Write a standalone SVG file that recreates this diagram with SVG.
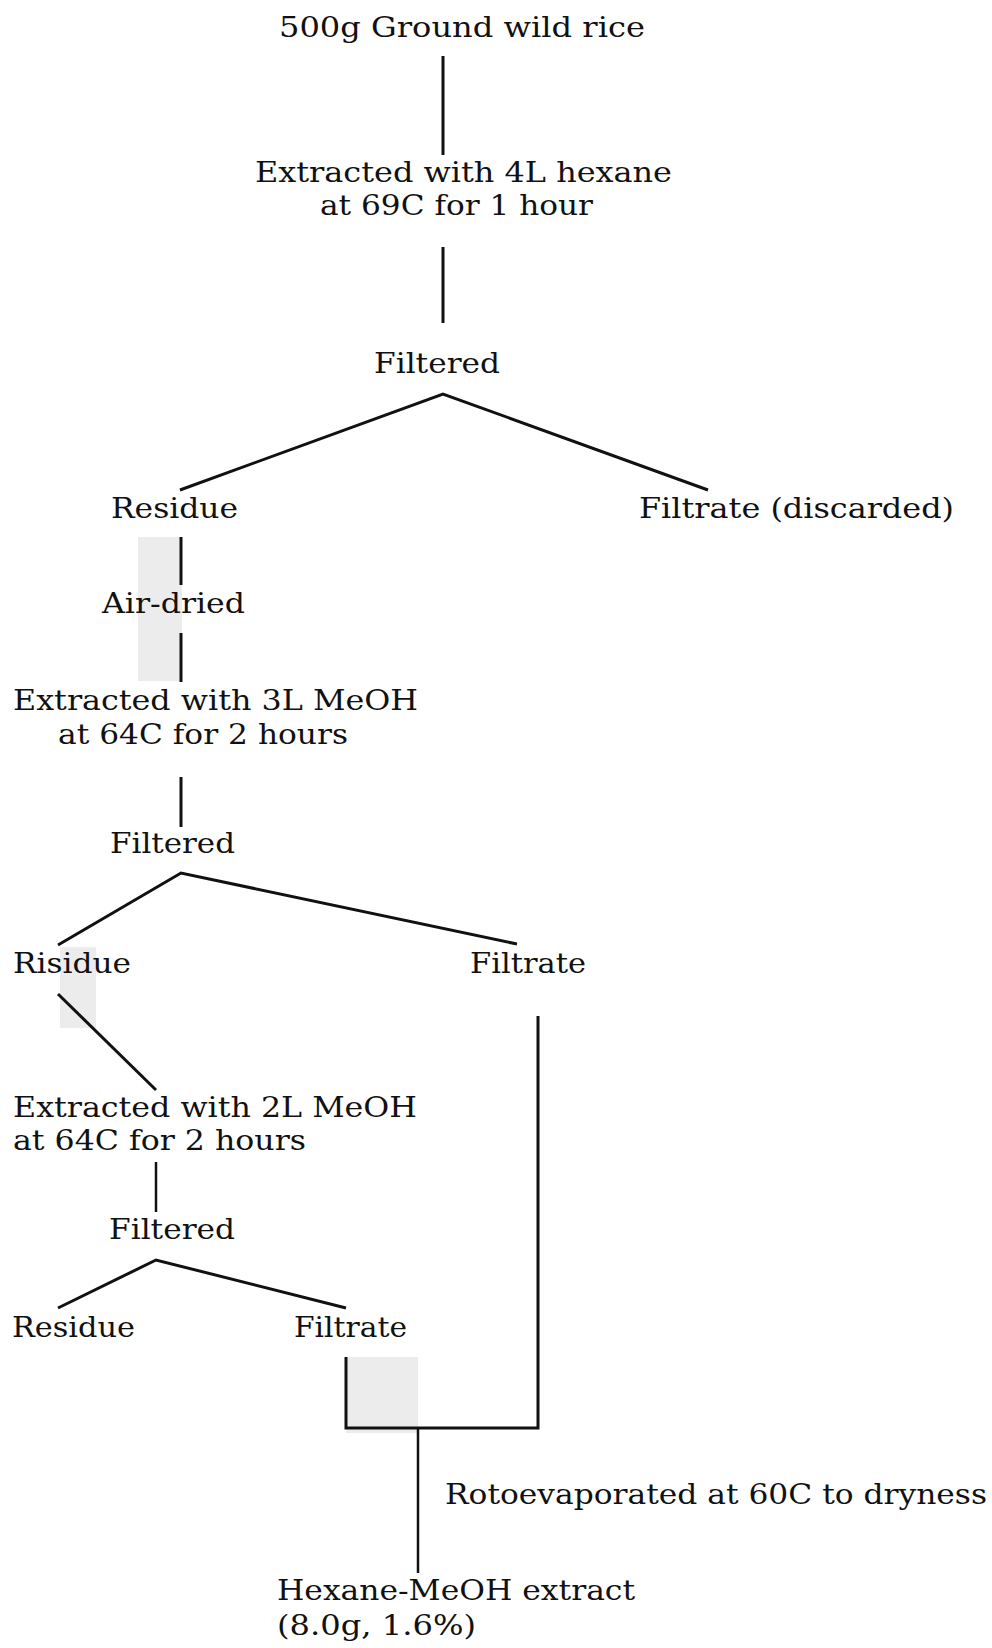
<svg xmlns="http://www.w3.org/2000/svg" width="992" height="1648" viewBox="0 0 992 1648">
<style>
text{font-family:"DejaVu Serif","Liberation Serif",serif;font-size:28px;fill:#111}
.ln{stroke:#111;stroke-width:3;fill:none;stroke-linecap:butt;stroke-linejoin:miter}
.thin{stroke-width:2.5}
.scan{fill:#ececec}
</style>
<rect width="992" height="1648" fill="#fff"/>
<g id="scan-marks">
<rect class="scan" x="138" y="537" width="44" height="144"/>
<rect class="scan" x="60" y="947" width="36" height="81"/>
<rect class="scan" x="346" y="1357" width="72" height="76"/>
</g>
<g id="connectors">
<line class="ln" x1="443" y1="56" x2="443" y2="155"/>
<line class="ln" x1="443" y1="247" x2="443" y2="323"/>
<polyline class="ln" points="180,490 443,394 708,490"/>
<line class="ln" x1="181" y1="537" x2="181" y2="585"/>
<line class="ln" x1="181" y1="633" x2="181" y2="682"/>
<line class="ln" x1="181" y1="777" x2="181" y2="827"/>
<polyline class="ln" points="58,945 181,873 517,944"/>
<line class="ln" x1="58" y1="994" x2="156" y2="1090"/>
<line class="ln thin" x1="156" y1="1162" x2="156" y2="1212"/>
<polyline class="ln" points="58,1308 156,1260 346,1308"/>
<polyline class="ln" points="346,1357 346,1428 538,1428 538,1016"/>
<line class="ln thin" x1="418" y1="1428" x2="418" y2="1573"/>
</g>
<g id="n1"><text x="279" y="37" textLength="366" lengthAdjust="spacingAndGlyphs">500g Ground wild rice</text></g>
<g id="n2"><text x="255" y="182" textLength="417" lengthAdjust="spacingAndGlyphs">Extracted with 4L hexane</text><text x="320" y="215" textLength="273" lengthAdjust="spacingAndGlyphs">at 69C for 1 hour</text></g>
<g id="n3"><text x="374" y="373" textLength="126" lengthAdjust="spacingAndGlyphs">Filtered</text></g>
<g id="n4"><text x="111" y="518" textLength="127" lengthAdjust="spacingAndGlyphs">Residue</text></g>
<g id="n5"><text x="639" y="518" textLength="315" lengthAdjust="spacingAndGlyphs">Filtrate (discarded)</text></g>
<g id="n6"><text x="102" y="613" textLength="143" lengthAdjust="spacingAndGlyphs">Air-dried</text></g>
<g id="n7"><text x="13" y="710" textLength="405" lengthAdjust="spacingAndGlyphs">Extracted with 3L MeOH</text><text x="58" y="744" textLength="290" lengthAdjust="spacingAndGlyphs">at 64C for 2 hours</text></g>
<g id="n8"><text x="110" y="853" textLength="125" lengthAdjust="spacingAndGlyphs">Filtered</text></g>
<g id="n9"><text x="13" y="973" textLength="118" lengthAdjust="spacingAndGlyphs">Risidue</text></g>
<g id="n10"><text x="470" y="973" textLength="116" lengthAdjust="spacingAndGlyphs">Filtrate</text></g>
<g id="n11"><text x="13" y="1117" textLength="404" lengthAdjust="spacingAndGlyphs">Extracted with 2L MeOH</text><text x="13" y="1150" textLength="293" lengthAdjust="spacingAndGlyphs">at 64C for 2 hours</text></g>
<g id="n12"><text x="109" y="1239" textLength="126" lengthAdjust="spacingAndGlyphs">Filtered</text></g>
<g id="n13"><text x="12" y="1337" textLength="123" lengthAdjust="spacingAndGlyphs">Residue</text></g>
<g id="n14"><text x="294" y="1337" textLength="113" lengthAdjust="spacingAndGlyphs">Filtrate</text></g>
<g id="n15"><text x="445" y="1504" textLength="542" lengthAdjust="spacingAndGlyphs">Rotoevaporated at 60C to dryness</text></g>
<g id="n16"><text x="277" y="1600" textLength="358" lengthAdjust="spacingAndGlyphs">Hexane-MeOH extract</text><text x="277" y="1635" textLength="199" lengthAdjust="spacingAndGlyphs">(8.0g, 1.6%)</text></g>
</svg>
